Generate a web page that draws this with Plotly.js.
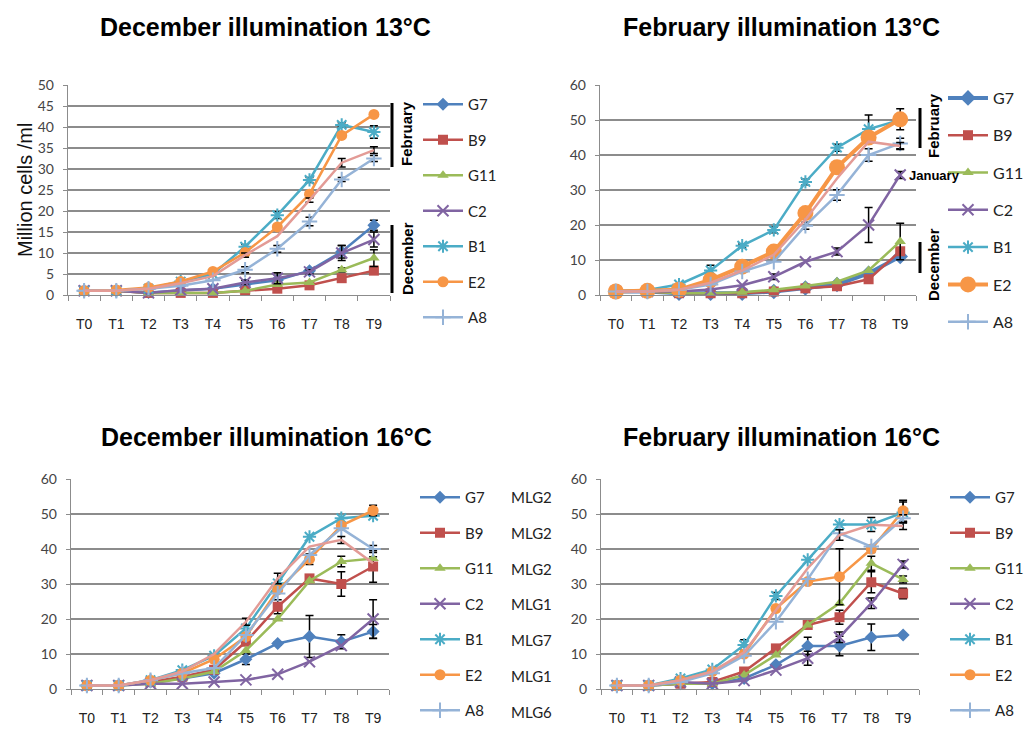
<!DOCTYPE html>
<html><head><meta charset="utf-8">
<script src="https://cdn.plot.ly/plotly-3.0.1.min.js"></script>
<style>html,body{margin:0;padding:0;background:#fff;overflow:hidden}#chart{width:1030px;height:729px}</style>
</head><body><div id="chart"></div>
<script>
// ---------- data ----------
const timepoints = ['T0','T1','T2','T3','T4','T5','T6','T7','T8','T9'];
const strains = ['G7','B9','G11','C2','B1','E2','A8'];
const mlgGroups = ['MLG2','MLG2','MLG2','MLG1','MLG7','MLG1','MLG6'];
const panelTitles = ['December illumination 13°C','February illumination 13°C','December illumination 16°C','February illumination 16°C'];

// December illumination 13°C
const d13_G7  = [1,1,0.6,1,1.5,2.5,3.5,5.8,10.3,16.6];
const d13_B9  = [1,1,0.5,0.5,0.5,1,1.5,2.3,4,5.8];
const d13_G11 = [1,1,0.5,0.5,0.5,1,2.5,3,6,8.8];
const d13_C2  = [1,1,0.5,1.2,1.5,3,4,5.5,10,13.2];
const d13_B1  = [1,1,1.5,3.2,5,11.5,19,27.4,40.5,38.8];
const d13_E2  = [1,1.2,1.8,3.2,5.6,10.1,16.2,24,38,43];
const d13_A8  = [1,1,1.5,2.2,3.5,6,11,17.5,27.5,32.5];
const d13_X   = [1,1,1.5,2.8,4.5,9.5,14,22.6,31.5,34.5];
const d13e_G7  = [0,0,0,0,0,0,0.5,0.5,1.5,1.2];
const d13e_B9  = [0,0,0,0,0,0,0,0,0,0.8];
const d13e_G11 = [0,0,0,0,0,0,0,0,0.5,2];
const d13e_C2  = [0,0,0,0,0,0.5,1.3,0.5,1.8,1.8];
const d13e_B1  = [0,0,0,0,0,0.5,0.8,0.6,0.5,1.5];
const d13e_E2  = [0,0,0,0,0,0,0,0,0,0];
const d13e_A8  = [0,0,0,0,0,0.7,0.8,1,0.5,0.7];
const d13e_X   = [0,0,0,0,0,0.5,0,0.5,1,0.8];

// February illumination 13°C
const f13_G7  = [1,1,0.5,0.5,0.5,1,2,3,6.2,11];
const f13_B9  = [1,1,0.5,0.5,0.5,1,1.9,2.5,4.5,12.5];
const f13_G11 = [1,1,0.5,0.5,0.8,1.5,2.6,3.8,7,15.3];
const f13_C2  = [1,1,1,1.6,2.8,5.2,9.5,12.4,20,34.3];
const f13_B1  = [1,1.4,3,7,14.1,18.6,32.3,42.1,47.4,50];
const f13_E2  = [1,1.2,1.5,4.3,8.1,12.4,23.4,36.5,45,50.2];
const f13_A8  = [1,1,1.5,3,6.7,9.5,19.8,28.6,40,43.3];
const f13_X   = [1,1,1.5,3.5,7,11.5,21.5,33.3,43.8,42.6];
const f13e_G7  = [0,0,0,0,0,0,0,0,0,0];
const f13e_B9  = [0,0,0,0,0,0,0,0,0,0];
const f13e_G11 = [0,0,0,0,0,0,0,0,0,5.2];
const f13e_C2  = [0,0,0,0,0,0.8,0,1,5,1];
const f13e_B1  = [0,0,0,1.5,0.5,0.8,0.8,1,4,0];
const f13e_E2  = [0,0,0,0,0,0,0,0,0,3];
const f13e_A8  = [0,0,0,0,0,0,1,1.5,1.8,1.5];
const f13e_X   = [0,0,0,0,0,0,0,0,0,1];

// December illumination 16°C
const d16_G7  = [1,1,2,3,4.5,8.5,13,15,13.5,16.4];
const d16_B9  = [1,1,2,3.5,5.5,13.5,23.5,31.6,30,35];
const d16_G11 = [1,1,1.5,3,5,11,20,30.9,36.4,37.3];
const d16_C2  = [1,1,1.5,1.5,2,2.6,4.2,7.8,12.4,20];
const d16_B1  = [1,1,2.5,5.4,9.5,17.3,30.2,43.5,48.8,49.5];
const d16_E2  = [1,1,2.5,4.5,8.5,15,28.3,37.1,46.7,51];
const d16_A8  = [1,1,2.5,4.5,6,15.4,27.3,38.3,45.9,40];
const d16_X   = [1,1,2.5,5,10,19.2,31.6,40.7,42.6,35.9];
const d16e_G7  = [0,0,0,0,0,1.5,0.5,6,2,2];
const d16e_B9  = [0,0,0,0,0,1,2,0.5,3.5,4.5];
const d16e_G11 = [0,0,0,0,0,0,0,0,1.5,0.5];
const d16e_C2  = [0,0,0,0,0,0,0,0,0,5.5];
const d16e_B1  = [0,0,0,0,0,0,0,0,0,0];
const d16e_E2  = [0,0,0,0,0,0,0,1.5,0,1.5];
const d16e_A8  = [0,0,0,0,0,0,0,0,0,1];
const d16e_X   = [0,0,0,0,0,1,1.5,0,1,0];

// February illumination 16°C
const f16_G7  = [1,1,1.5,1.5,3,6.9,12.3,12.3,14.8,15.4];
const f16_B9  = [1,1,1.5,2,5,11.6,18.3,20.5,30.5,27.3];
const f16_G11 = [1,1,1.5,1.5,4,9.7,18.3,24.5,35.9,31.3];
const f16_C2  = [1,1,2,1.5,2.4,5.4,8.8,14.8,24.5,35.6];
const f16_B1  = [1,1,3,5.6,12.6,26.6,36.9,47,47,50.4];
const f16_E2  = [1,1,2.5,5,10,23,30.7,32.1,40,50.9];
const f16_A8  = [1,1,2,4.5,9.5,19.2,31.4,44.5,40.7,48.8];
const f16_X   = [1,1,2.5,5,10.5,22.5,34.5,44,46.9,46.6];
const f16e_G7  = [0,0,0,0,0,0,2.5,2.8,3.8,0];
const f16e_B9  = [0,0,0,0,0,0,1,2,3,1.5];
const f16e_G11 = [0,0,0,0,0,0,0,0,2,1];
const f16e_C2  = [0,0,0,0,0,0,2,1.5,1.5,1];
const f16e_B1  = [0,0,0,0,1.5,1,0,0,2,3];
const f16e_E2  = [0,0,0,0,0,0,0,8,1,3];
const f16e_A8  = [0,0,0,0,0,0,0,0,0,1];
const f16e_X   = [0,0,0,0,0,0,0,1.5,0,1];

// ---------- styling ----------
const W = 1030, H = 729;
const px = v => v / W, py = v => 1 - v / H;
const colors = {G7:'#4F81BD',B9:'#C0504D',G11:'#9BBB59',C2:'#8064A2',B1:'#4BACC6',E2:'#F79646',A8:'#95B3D7',X:'#E39B96'};
const symbols = {G7:'diamond',B9:'square',G11:'triangle-up',C2:'x-thin-open',B1:'asterisk-open',E2:'circle',A8:'cross-thin-open',X:'circle'};
const sizes = {G7:10,B9:10,G11:10,C2:11,B1:11,E2:11,A8:11,X:1};
const FONT = 'Lato, "Open Sans", sans-serif';
const NARROW = '"Liberation Sans Narrow", "Liberation Sans", Arial, sans-serif';
const BOLD = '"Liberation Sans", Arial, sans-serif';

const panels = [
  {vals:{G7:d13_G7,B9:d13_B9,G11:d13_G11,C2:d13_C2,B1:d13_B1,E2:d13_E2,A8:d13_A8,X:d13_X},
   errs:{G7:d13e_G7,B9:d13e_B9,G11:d13e_G11,C2:d13e_C2,B1:d13e_B1,E2:d13e_E2,A8:d13e_A8,X:d13e_X}},
  {vals:{G7:f13_G7,B9:f13_B9,G11:f13_G11,C2:f13_C2,B1:f13_B1,E2:f13_E2,A8:f13_A8,X:f13_X},
   errs:{G7:f13e_G7,B9:f13e_B9,G11:f13e_G11,C2:f13e_C2,B1:f13e_B1,E2:f13e_E2,A8:f13e_A8,X:f13e_X}},
  {vals:{G7:d16_G7,B9:d16_B9,G11:d16_G11,C2:d16_C2,B1:d16_B1,E2:d16_E2,A8:d16_A8,X:d16_X},
   errs:{G7:d16e_G7,B9:d16e_B9,G11:d16e_G11,C2:d16e_C2,B1:d16e_B1,E2:d16e_E2,A8:d16e_A8,X:d16e_X}},
  {vals:{G7:f16_G7,B9:f16_B9,G11:f16_G11,C2:f16_C2,B1:f16_B1,E2:f16_E2,A8:f16_A8,X:f16_X},
   errs:{G7:f16e_G7,B9:f16e_B9,G11:f16e_G11,C2:f16e_C2,B1:f16e_B1,E2:f16e_E2,A8:f16e_A8,X:f16e_X}}
];
const axNames = [['x','y'],['x2','y2'],['x3','y3'],['x4','y4']];
const legNames = ['legend','legend2','legend3','legend4'];

const traces = [];
panels.forEach((p, i) => {
  const keys = strains.concat(['X']);
  keys.forEach(k => {
    const thick = (i === 1 && (k === 'E2' || k === 'G7'));
    const lw = thick ? 4 : 2.5;
    let ms = sizes[k];
    if (i === 1 && k === 'E2') ms = 16;
    if (i === 1 && k === 'G7') ms = 12;
    traces.push({
      type:'scatter', mode: k === 'X' ? 'lines' : 'lines+markers',
      x: timepoints, y: p.vals[k], name: k,
      xaxis: axNames[i][0], yaxis: axNames[i][1],
      legend: legNames[i], legendgroup: 'p' + i + k,
      showlegend: k !== 'X', cliponaxis: false,
      line: {color: colors[k], width: lw},
      marker: {symbol: symbols[k], size: ms, color: colors[k], line: {color: colors[k], width: (k==='C2'||k==='B1'||k==='A8') ? 2 : 0}},
      error_y: {type:'data', array: p.errs[k].map(e => e > 0 ? e : NaN), visible:true, color:'#000', thickness:1.5, width:4},
      hoverinfo:'x+y+name'
    });
  });
});

// ---------- layout ----------
const plotBoxes = [
  {x0:68, x1:390, y0:85, y1:295, ymax:50, dtick:5},
  {x0:600, x1:916, y0:85, y1:295, ymax:60, dtick:10},
  {x0:71, x1:389, y0:479, y1:689, ymax:60, dtick:10},
  {x0:601, x1:919, y0:479, y1:689, ymax:60, dtick:10}
];
const layout = {
  width: W, height: H, margin:{l:0,r:0,t:0,b:0,pad:0,autoexpand:false},
  paper_bgcolor:'#fff', plot_bgcolor:'#fff',
  font:{family:FONT, color:'#333'},
  annotations: [], shapes: []
};
plotBoxes.forEach((b, i) => {
  const xs = i === 0 ? 'xaxis' : 'xaxis' + (i + 1);
  const ys = i === 0 ? 'yaxis' : 'yaxis' + (i + 1);
  layout[xs] = {
    domain:[px(b.x0), px(b.x1)], anchor: axNames[i][1],
    type:'category', range:[-0.5, 9.5], tickson:'boundaries',
    ticks:'outside', ticklen:5, tickcolor:'#8c8c8c', tickwidth:1,
    showline:true, linecolor:'#8c8c8c', linewidth:1.2, showgrid:false, zeroline:false,
    tickfont:{family:NARROW, size:14, color:'#222'}, ticklabelstandoff:16, fixedrange:true
  };
  layout[ys] = {
    domain:[py(b.y1), py(b.y0)], anchor: axNames[i][0],
    range:[0, b.ymax], dtick:b.dtick, tick0:0,
    showgrid:true, gridcolor:'#8c8c8c', gridwidth:1.5,
    showline:true, linecolor:'#8c8c8c', linewidth:1.2,
    ticks:'outside', ticklen:4, tickcolor:'#8c8c8c', zeroline:false,
    tickfont:{family:FONT, size:14, color:'#444'}, ticklabelstandoff:6, fixedrange:true
  };
});

const legendSpecs = [
  {x:418, y:88, size:15, gap:13},
  {x:943, y:81, size:16, gap:13.5},
  {x:415, y:481, size:15, gap:13},
  {x:945, y:481, size:15, gap:13}
];
legendSpecs.forEach((s, i) => {
  layout[legNames[i]] = {
    x: px(s.x), y: py(s.y), xanchor:'left', yanchor:'top',
    orientation:'v', traceorder:'grouped', tracegroupgap:s.gap, itemwidth:40,
    bgcolor:'rgba(0,0,0,0)', borderwidth:0,
    font:{family:FONT, size:s.size, color:'#222'}
  };
});

// panel titles
const titleCenters = [[265,27],[781,27],[266,437],[781,437]];
panelTitles.forEach((t, i) => {
  layout.annotations.push({text:'<b>'+t+'</b>', xref:'paper', yref:'paper',
    x:px(titleCenters[i][0]), y:py(titleCenters[i][1]), xanchor:'center', yanchor:'middle',
    showarrow:false, font:{family:BOLD, size:25, color:'#000'}});
});
// y axis title
layout.annotations.push({text:'Million cells /ml', xref:'paper', yref:'paper', x:px(25), y:py(190),
  xanchor:'center', yanchor:'middle', textangle:-90, showarrow:false,
  font:{family:BOLD, size:20, color:'#111'}});

// month bracket labels
const monthLabels = [
  {t:'February', x:407, y:134, rot:-90, size:15},
  {t:'December', x:407, y:259, rot:-90, size:15},
  {t:'February', x:933, y:126, rot:-90, size:15},
  {t:'December', x:933, y:265, rot:-90, size:15},
  {t:'January', x:934, y:175, rot:0, size:13}
];
monthLabels.forEach(m => {
  layout.annotations.push({text:'<b>'+m.t+'</b>', xref:'paper', yref:'paper', x:px(m.x), y:py(m.y),
    xanchor:'center', yanchor:'middle', textangle:m.rot, showarrow:false,
    font:{family:BOLD, size:m.size, color:'#000'}});
});
const bars = [[392,103,167],[392,225,293],[920,108,148],[920,242,273]];
bars.forEach(b => {
  layout.shapes.push({type:'line', xref:'paper', yref:'paper', x0:px(b[0]), x1:px(b[0]),
    y0:py(b[1]), y1:py(b[2]), line:{color:'#000', width:3}});
});

// MLG labels next to legend 3
const mlgRows = [497,533,569,604,640,676,712];
mlgGroups.forEach((g, i) => {
  layout.annotations.push({text:g, xref:'paper', yref:'paper', x:px(509), y:py(mlgRows[i]),
    xanchor:'left', yanchor:'middle', showarrow:false, font:{family:FONT, size:15, color:'#222'}});
});

Plotly.newPlot('chart', traces, layout, {displayModeBar:false, staticPlot:true});
</script></body></html>
